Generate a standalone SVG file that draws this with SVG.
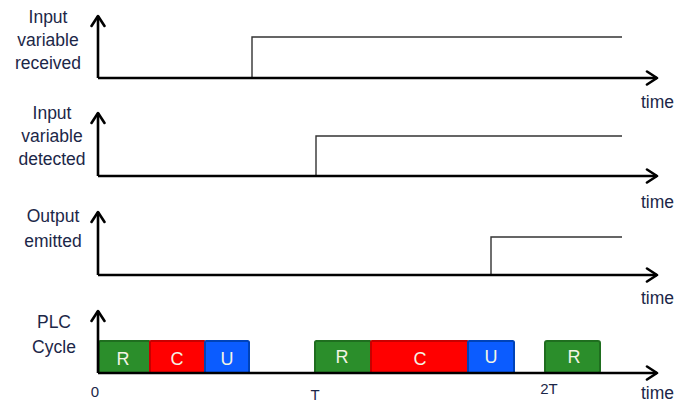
<svg xmlns="http://www.w3.org/2000/svg" width="683" height="404" viewBox="0 0 683 404">
  <style>
    .lbl { font-family: "Liberation Sans", Arial, sans-serif; font-size: 17.5px; fill: #1c2748; text-anchor: middle; }
    .time { font-family: "Liberation Sans", Arial, sans-serif; font-size: 17.5px; fill: #1c2748; }
    .tick { font-family: "Liberation Sans", Arial, sans-serif; font-size: 15px; fill: #1c2748; text-anchor: middle; }
    .axis { stroke: #000; stroke-width: 2.6; fill: none; }
    .sig { stroke: #333; stroke-width: 1.4; fill: none; }
    .box text { font-family: "Liberation Sans", Arial, sans-serif; font-size: 18px; fill: #f4f4e4; text-anchor: middle; }
    .g { fill: #2b8e2b; stroke: #1f6e1f; stroke-width: 2; }
    .r { fill: #ff0000; stroke: #c80000; stroke-width: 2; }
    .b { fill: #0b5cff; stroke: #0043b8; stroke-width: 2; }
  </style>
  <defs>
    <marker id="head" viewBox="0 0 14 16" refX="12" refY="8" markerWidth="14" markerHeight="16" markerUnits="userSpaceOnUse" orient="auto">
      <path d="M2,1.5 L12,8 L2,14.5" fill="none" stroke="#000" stroke-width="2.6" stroke-linecap="round" stroke-linejoin="round"/>
    </marker>
  </defs>

  <!-- axis labels -->
  <g id="label-received">
    <text class="lbl" x="48" y="23">Input</text>
    <text class="lbl" x="48" y="46">variable</text>
    <text class="lbl" x="48" y="69">received</text>
  </g>
  <g id="label-detected">
    <text class="lbl" x="52" y="119">Input</text>
    <text class="lbl" x="52" y="142">variable</text>
    <text class="lbl" x="52" y="165">detected</text>
  </g>
  <g id="label-emitted">
    <text class="lbl" x="53" y="222">Output</text>
    <text class="lbl" x="53" y="247">emitted</text>
  </g>
  <g id="label-plc">
    <text class="lbl" x="54" y="328">PLC</text>
    <text class="lbl" x="54" y="353">Cycle</text>
  </g>

  <!-- PLC cycle phases -->
  <g id="cycle1-R" class="box"><rect class="g" x="99" y="341" width="51" height="32" rx="1.5"/><text x="123" y="365">R</text></g>
  <g id="cycle1-C" class="box"><rect class="r" x="150" y="341" width="55" height="32" rx="1"/><text x="177" y="365">C</text></g>
  <g id="cycle1-U" class="box"><rect class="b" x="205" y="341" width="44" height="32" rx="1.5"/><text x="227" y="365">U</text></g>
  <g id="cycle2-R" class="box"><rect class="g" x="315" y="341" width="56" height="32" rx="1.5"/><text x="342" y="363">R</text></g>
  <g id="cycle2-C" class="box"><rect class="r" x="371" y="341" width="97" height="32" rx="1"/><text x="420" y="365">C</text></g>
  <g id="cycle2-U" class="box"><rect class="b" x="468" y="341" width="46" height="32" rx="1.5"/><text x="491" y="363">U</text></g>
  <g id="cycle3-R" class="box"><rect class="g" x="545" y="341" width="55" height="32" rx="2"/><text x="574" y="363">R</text></g>

  <!-- signal traces -->
  <g id="signals">
    <polyline class="sig" points="252,78 252,37 622,37"/>
    <polyline class="sig" points="316,176 316,136 622,136"/>
    <polyline class="sig" points="491,275 491,237 622,237"/>
  </g>

  <!-- time axes -->
  <g id="connectors">
    <line class="axis" x1="98" y1="78" x2="657" y2="78" marker-end="url(#head)"/>
    <line class="axis" x1="98" y1="78" x2="98" y2="16" marker-end="url(#head)"/>
    <line class="axis" x1="98" y1="176" x2="657" y2="176" marker-end="url(#head)"/>
    <line class="axis" x1="98" y1="176" x2="98" y2="113" marker-end="url(#head)"/>
    <line class="axis" x1="98" y1="275" x2="657" y2="275" marker-end="url(#head)"/>
    <line class="axis" x1="98" y1="275" x2="98" y2="212" marker-end="url(#head)"/>
    <line class="axis" x1="98" y1="373" x2="657" y2="373" marker-end="url(#head)"/>
    <line class="axis" x1="98" y1="373" x2="98" y2="311" marker-end="url(#head)"/>
  </g>

  <!-- axis captions -->
  <g id="time-labels">
    <text class="time" x="641" y="108">time</text>
    <text class="time" x="641" y="208">time</text>
    <text class="time" x="641" y="304">time</text>
    <text class="time" x="641" y="399">time</text>
  </g>
  <g id="ticks">
    <text class="tick" x="95" y="397">0</text>
    <text class="tick" x="315" y="400">T</text>
    <text class="tick" x="549" y="394">2T</text>
  </g>
</svg>
